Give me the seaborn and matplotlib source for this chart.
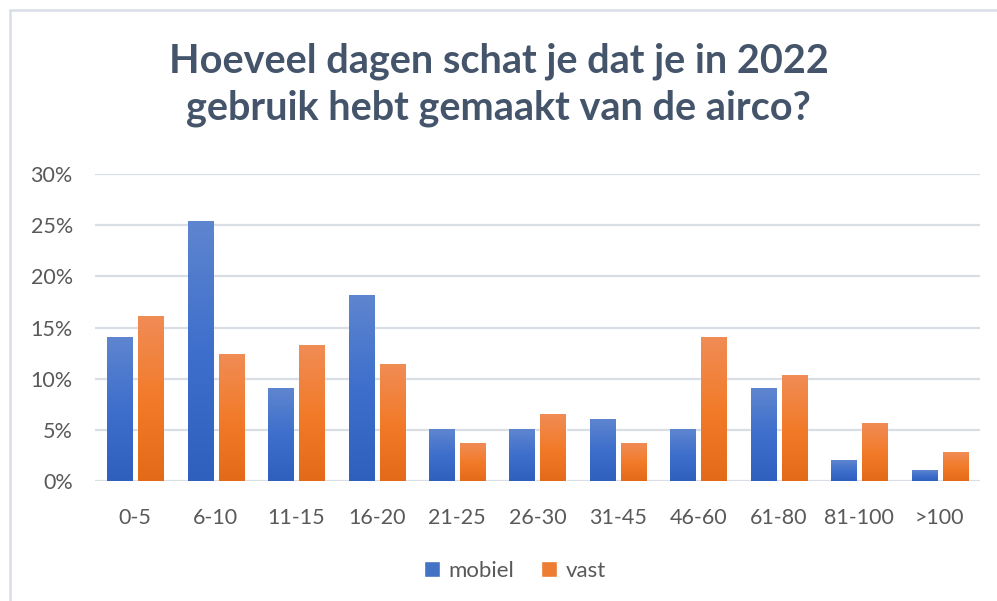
import numpy as np
import pandas as pd
import matplotlib
matplotlib.use("Agg")
import matplotlib.pyplot as plt
import matplotlib.colors as mcolors
from matplotlib.ticker import PercentFormatter
from matplotlib.patches import Rectangle
import seaborn as sns

categories = ["0-5", "6-10", "11-15", "16-20", "21-25", "26-30",
              "31-45", "46-60", "61-80", "81-100", ">100"]
mobiel = [0.140, 0.253, 0.090, 0.181, 0.050, 0.050,
          0.060, 0.050, 0.090, 0.020, 0.010]
vast = [0.160, 0.123, 0.132, 0.114, 0.037, 0.065,
        0.037, 0.140, 0.103, 0.056, 0.028]
series = ["mobiel", "vast"]

df = pd.DataFrame({
    "bereik": categories * 2,
    "type": ["mobiel"] * len(categories) + ["vast"] * len(categories),
    "pct": mobiel + vast,
})

sns.set_theme(style="white")
plt.rcParams["font.family"] = ["Lato", "DejaVu Sans"]

blue = "#4472C4"
orange = "#ED7D31"
grad = {
    "mobiel": ["#3060BE", "#3E6FCC", "#5E85CF"],
    "vast": ["#E36A18", "#F27B2A", "#F08C55"],
}

fig = plt.figure(figsize=(9.97, 6.01), dpi=100)
ax = fig.add_axes([95 / 997, 1 - 481.3 / 601, 885 / 997, 307.6 / 601])

sns.barplot(data=df, x="bereik", y="pct", hue="type", palette=[blue, orange],
            width=0.77, gap=0.19, ax=ax, saturation=1)

# gradient fill in de staven (Excel-stijl)
n = len(categories)
for i, patch in enumerate(ax.patches[:2 * n]):
    name = series[i // n]
    cmap = mcolors.LinearSegmentedColormap.from_list(name, grad[name])
    x0, y0 = patch.get_x(), patch.get_y()
    w, h = patch.get_width(), patch.get_height()
    img = np.linspace(0, 1, 100).reshape(-1, 1)
    ax.imshow(img, extent=[x0, x0 + w, y0, y0 + h], origin="lower",
              aspect="auto", cmap=cmap, zorder=patch.get_zorder() + 0.1)

ax.set_xlim(-0.5, n - 0.5)
ax.set_ylim(0, 0.30)
ax.set_yticks(np.arange(0, 0.31, 0.05))
ax.yaxis.set_major_formatter(PercentFormatter(1.0, decimals=0))
ax.grid(axis="y", color="#D9DDE4", linewidth=1.6)
ax.set_axisbelow(True)
for s in ax.spines.values():
    s.set_visible(False)
ax.tick_params(axis="both", length=0, labelsize=15.5, labelcolor="#595959")
ax.tick_params(axis="y", pad=16)
ax.tick_params(axis="x", pad=19)
ax.set_xlabel("")
ax.set_ylabel("")

handles, labels = ax.get_legend_handles_labels()
ax.legend_.remove()
fig.legend(handles, labels, loc="center", bbox_to_anchor=(515 / 997, 1 - 571 / 601),
           ncol=2, frameon=False, fontsize=16, handlelength=0.7, handleheight=0.7,
           handletextpad=0.4, columnspacing=1.2, labelcolor="#595959")

fig.text(0.5, 1 - 85 / 601, "Hoeveel dagen schat je dat je in 2022\ngebruik hebt gemaakt van de airco?",
         ha="center", va="center", fontsize=28.5, fontweight="bold", color="#44546A",
         linespacing=1.3)

# lichte kader rond de grafiek
fig.add_artist(Rectangle((10 / 997, -0.1), 1.2, 1 - 10 / 601 + 0.1, transform=fig.transFigure,
                         fill=False, edgecolor="#D9DEE6", linewidth=1.8))

fig.savefig("out.png", dpi=100)
